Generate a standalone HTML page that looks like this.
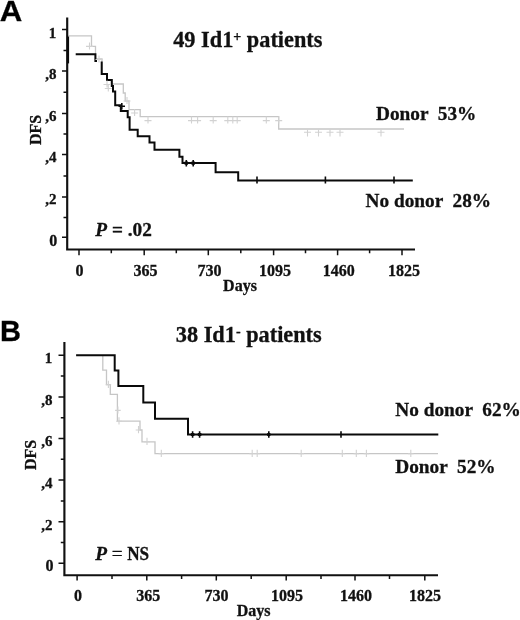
<!DOCTYPE html>
<html>
<head>
<meta charset="utf-8">
<title>DFS</title>
<style>
html,body{margin:0;padding:0;background:#fff;}
body{width:520px;height:620px;overflow:hidden;}
svg{display:block;will-change:transform;}
text{font-family:"Liberation Serif",serif;font-weight:bold;fill:#111;stroke:#111;stroke-width:0.3px;}
.sans{font-family:"Liberation Sans",sans-serif;font-weight:bold;font-size:29px;fill:#000;}
.ax{font-size:16px;}
.lb{font-size:19.3px;}
.tt{font-size:22.3px;}
.axis{stroke:#111;stroke-width:2.15;fill:none;}
.tk{stroke:#111;stroke-width:1.5;fill:none;}
.blk{stroke:#0a0a0a;stroke-width:2;fill:none;stroke-linejoin:miter;}
.bm{stroke:#0a0a0a;stroke-width:1.6;fill:none;}
.gry{stroke:#c6c6c6;stroke-width:1.3;fill:none;}
.gm{stroke:#d2d2d2;stroke-width:1.1;fill:none;}
</style>
</head>
<body>
<svg width="520" height="620" viewBox="0 0 520 620">
<rect x="0" y="0" width="520" height="620" fill="#fff"/>

<!-- ================= PANEL A ================= -->
<text class="sans" transform="translate(-0.3,21.2) scale(1.04,1)" style="font-size:30px">A</text>
<text class="tt" x="173.2" y="46.8">49 Id1<tspan font-size="14" dy="-6">+</tspan><tspan dy="6"> patients</tspan></text>

<!-- axes A -->
<path class="axis" d="M67.2,17.5 V249.5 M66.1,249.5 H415"/>
<path class="blk" d="M68,35.5 V63.4" style="stroke-width:2.2"/>
<!-- y ticks A -->
<path class="tk" d="M62,29.5H67 M63.5,50.4H67 M62,71.1H67 M63.5,92.2H67 M62,113.4H67 M63.5,134H67 M62,154.5H67 M63.5,176H67 M62,196.9H67 M63.5,217.4H67 M62,237.3H67"/>
<!-- x ticks A -->
<path class="tk" d="M79,249.7V255.3 M111.3,249.7V253.3 M144.2,249.7V255.3 M176.3,249.7V253.3 M208.3,249.7V255.3 M240.8,249.7V253.3 M273.6,249.7V255.3 M305.5,249.7V253.3 M337.6,249.7V255.3 M369.6,249.7V253.3 M402,249.7V255.3"/>
<!-- y labels A -->
<g class="ax" text-anchor="end">
<text x="56.3" y="37.8" font-size="15">1</text>
<text x="56.5" y="78.7" font-size="15">,8</text>
<text x="56.5" y="121" font-size="15">,6</text>
<text x="56.5" y="162" font-size="15">,4</text>
<text x="56.5" y="204" font-size="15">,2</text>
<text x="57.3" y="245.8">0</text>
</g>
<text class="ax" transform="translate(41.3,130) rotate(-90)" text-anchor="middle">DFS</text>
<!-- x labels A -->
<g class="ax" text-anchor="middle">
<text x="79.4" y="275.7">0</text>
<text x="145.4" y="275.7">365</text>
<text x="209.6" y="275.7">730</text>
<text x="275" y="275.7">1095</text>
<text x="338.8" y="275.7">1460</text>
<text x="404" y="275.7">1825</text>
<text x="240" y="291.3">Days</text>
</g>
<text class="lb" x="95.3" y="235.6"><tspan font-style="italic">P</tspan> = .02</text>
<text class="lb" x="376" y="119.5" xml:space="preserve">Donor  53%</text>
<text class="lb" x="365.6" y="207" xml:space="preserve">No donor  28%</text>

<!-- gray curve A (Donor) -->
<path class="gry" d="M68,35.8 H91.5 V46.4 H95.5 V59 H102 V74 H107 V80 H112 V84 H123.3 V93 H125.2 V101 H129 V109.7 H140.2 V116.6 H278.7 V129 H404"/>
<!-- black curve A (No donor) -->
<path class="blk" d="M75.7,54.2 H95.4 V61 H97 M101.7,61.5 V74 H107 V80 H111.8 V86 H113 V91.5 H115.2 V105.3 H120.8 V111 H127.7 V117.2 H129.6 V129.8 H137.7 V136.2 H149.5 V142.5 H154.5 V149.7 H179.4 V156.7 H182.5 V163.1 H215.6 V172.2 H238.2 V180.5 H412.8"/>
<path class="bm" d="M186.3,160V166.4 M193.2,160V166.4 M257,176.6V183.6 M325.4,176.6V183.6 M394,176.6V183.6 M121.8,103V109.5 M118.5,106.3H125"/>
<path d="M184.6,163.1H188 M191.5,163.1H194.9" stroke="#0a0a0a" stroke-width="3.2" fill="none"/>
<path class="gm" d="M89.5,42.4V49.4 M86.0,46.4H93.0 M99.0,55.5V62.5 M95.5,59.5H102.5 M107.0,80.5V87.5 M103.5,84.5H110.5 M108.3,84.5V91.5 M104.8,88.5H111.8 M127.0,97.0V104.0 M123.5,101.0H130.5 M134.6,109.0V116.0 M131.1,113.0H138.1 M148.0,116.6V123.6 M144.5,120.6H151.5 M191.5,116.6V123.6 M188.0,120.6H195.0 M197.6,116.6V123.6 M194.1,120.6H201.1 M213.2,116.6V123.6 M209.7,120.6H216.7 M227.8,116.6V123.6 M224.3,120.6H231.3 M232.8,116.6V123.6 M229.3,120.6H236.3 M237.2,116.6V123.6 M233.7,120.6H240.7 M266.3,116.6V123.6 M262.8,120.6H269.8 M278.7,116.6V123.6 M275.2,120.6H282.2 M307.5,129V136.6 M304.0,132.2H311.0 M318.5,129V136.6 M315.0,132.2H322.0 M330.0,129V136.6 M326.5,132.2H333.5 M340.0,129V136.6 M336.5,132.2H343.5 M381.0,129V136.6 M377.5,132.2H384.5"/>

<!-- ================= PANEL B ================= -->
<text class="sans" x="0" y="341.2">B</text>
<text class="tt" x="175.8" y="342">38 Id1<tspan font-size="14" dy="-6.3">-</tspan><tspan dy="6.3"> patients</tspan></text>

<!-- axes B -->
<path class="axis" d="M64.4,342 V575.2 M63.3,575.2 H438"/>
<!-- y ticks B -->
<path class="tk" d="M58.5,355.3H64.6 M60.8,376.1H64.6 M58.5,396.9H64.6 M60.8,417.7H64.6 M58.5,438.5H64.6 M60.8,459.3H64.6 M58.5,480.1H64.6 M60.8,500.9H64.6 M58.5,521.7H64.6 M60.8,542.5H64.6 M58.5,563.3H64.6"/>
<!-- x ticks B -->
<path class="tk" d="M77.1,575.2V580.6 M112,575.2V578.9 M146.8,575.2V580.6 M181.6,575.2V578.9 M216.3,575.2V580.6 M251.2,575.2V578.9 M286.2,575.2V580.6 M321,575.2V578.9 M355,575.2V580.6 M389.5,575.2V578.9 M424.8,575.2V580.6"/>
<g class="ax" text-anchor="end">
<text x="52.2" y="363.3" font-size="15">1</text>
<text x="52.5" y="404.7" font-size="15">,8</text>
<text x="52.5" y="446.3" font-size="15">,6</text>
<text x="52.5" y="487.5" font-size="15">,4</text>
<text x="52.5" y="529.5" font-size="15">,2</text>
<text x="53.4" y="571.4">0</text>
</g>
<text class="ax" transform="translate(36.4,454.9) rotate(-90)" text-anchor="middle">DFS</text>
<g class="ax" text-anchor="middle">
<text x="78" y="601">0</text>
<text x="148.3" y="601">365</text>
<text x="216.5" y="601">730</text>
<text x="287" y="601">1095</text>
<text x="356" y="601">1460</text>
<text x="425" y="601">1825</text>
<text x="253.7" y="616.3">Days</text>
</g>
<text class="lb" x="95.2" y="560.4"><tspan font-style="italic">P</tspan><tspan font-weight="normal"> =</tspan></text>
<text class="lb" transform="translate(127.2,560.4) scale(0.89,1)">NS</text>
<text class="lb" x="395.3" y="416.3" xml:space="preserve">No donor  62%</text>
<text class="lb" x="395.3" y="473.3" xml:space="preserve">Donor  52%</text>

<!-- gray curve B (Donor) -->
<path class="gry" d="M102.8,356 V370.2 H106.5 V384.7 H110.3 V394.3 H117.4 V421.2 H140 V430 H142 V441.8 H155 V453.7 H438"/>
<!-- black curve B (No donor) -->
<path class="blk" d="M76.1,355.3 H114.7 V370.4 H118.4 V386.1 H143.3 V402.5 H155 V418.8 H188 V434.5 H438.3"/>
<path class="bm" d="M192.6,431.2V437.8 M199.6,431.2V437.8 M268.8,431.2V437.8 M341,431.2V437.8"/>
<path d="M190.8,434.5H194.4 M197.8,434.5H201.4 M267.2,434.5H270.4" stroke="#0a0a0a" stroke-width="3.2" fill="none"/>
<path class="gm" d="M108.4,380.7V387.9 M105.6,384.7H111.2 M117.9,406.4V413.6 M115.1,410.4H120.7 M119.0,417.2V424.4 M116.2,421.2H121.8 M138.5,426.0V433.2 M135.7,430.0H141.3 M147.0,437.8V445.0 M144.2,441.8H149.8 M161.3,449.7V456.9 M158.5,453.7H164.1 M252.2,449.7V456.9 M249.4,453.7H255.0 M257.2,449.7V456.9 M254.4,453.7H260.0 M301.2,449.7V456.9 M298.4,453.7H304.0 M342.3,449.7V456.9 M339.5,453.7H345.1 M356.3,449.7V456.9 M353.5,453.7H359.1 M366.4,449.7V456.9 M363.6,453.7H369.2 M410.8,449.7V456.9 M408.0,453.7H413.6"/>
</svg>
</body>
</html>
